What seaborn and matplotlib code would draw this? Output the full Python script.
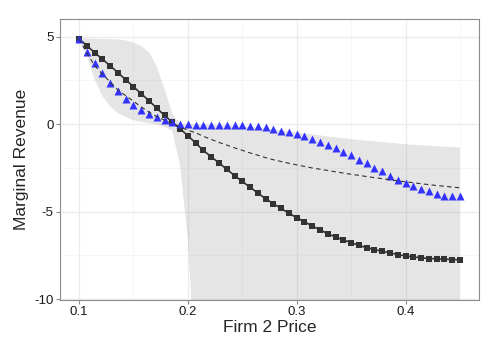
import numpy as np
import pandas as pd
import matplotlib
matplotlib.use("Agg")
import matplotlib.pyplot as plt
import seaborn as sns

# --- values (50 prices from 0.10 to 0.45) ---
price = np.linspace(0.10, 0.45, 50)

mr_black = [4.87, 4.48, 4.08, 3.71, 3.33, 2.94, 2.53, 2.13, 1.73, 1.33,
            0.91, 0.49, 0.11, -0.27, -0.67, -1.08, -1.51, -1.87, -2.22, -2.58,
            -2.94, -3.28, -3.61, -3.94, -4.27, -4.55, -4.82, -5.10, -5.35, -5.59,
            -5.82, -6.05, -6.26, -6.45, -6.62, -6.77, -6.93, -7.06, -7.17, -7.27,
            -7.36, -7.46, -7.53, -7.59, -7.64, -7.68, -7.70, -7.72, -7.74, -7.76]

mr_blue = [4.87, 4.14, 3.48, 2.91, 2.37, 1.90, 1.44, 1.10, 0.82, 0.57,
           0.38, 0.25, 0.11, 0.00, -0.01, -0.03, -0.04, -0.04, -0.04, -0.04,
           -0.05, -0.07, -0.10, -0.14, -0.19, -0.27, -0.37, -0.46, -0.57, -0.68,
           -0.86, -1.01, -1.18, -1.37, -1.58, -1.79, -2.04, -2.22, -2.51, -2.70,
           -2.97, -3.18, -3.37, -3.56, -3.71, -3.85, -3.99, -4.09, -4.13, -4.13]

mr_dashed = [4.87, 4.05, 3.35, 2.85, 2.40, 1.95, 1.62, 1.30, 0.98, 0.68,
             0.42, 0.22, 0.05, -0.17, -0.35, -0.50, -0.70, -0.88, -1.05, -1.20,
             -1.36, -1.50, -1.65, -1.78, -1.92, -2.04, -2.14, -2.24, -2.33, -2.42,
             -2.51, -2.58, -2.65, -2.73, -2.80, -2.87, -2.93, -3.00, -3.06, -3.12,
             -3.18, -3.25, -3.30, -3.35, -3.41, -3.46, -3.51, -3.55, -3.60, -3.64]

band_upper = [4.90, 4.88, 4.87, 4.86, 4.85, 4.83, 4.78, 4.65, 4.45, 4.10,
              3.30, 2.00, 0.60, 0.00, -0.01, -0.03, -0.04, -0.05, -0.06, -0.08,
              -0.10, -0.13, -0.16, -0.20, -0.25, -0.30, -0.35, -0.41, -0.47, -0.53,
              -0.59, -0.65, -0.71, -0.76, -0.81, -0.86, -0.91, -0.95, -0.99, -1.03,
              -1.07, -1.11, -1.15, -1.18, -1.21, -1.24, -1.27, -1.29, -1.31, -1.33]

band_lower = [4.90, 3.90, 2.55, 1.60, 1.02, 0.63, 0.40, 0.22, 0.11, 0.05,
              -0.01, -0.15, -0.40, -2.40, -6.60, -14.4, -24.0, -30.0, -34.0, -37.0,
              -39.0, -40.0, -41.0, -42.0, -42.5, -43.0, -43.5, -44.0, -44.0, -44.0,
              -44.0, -44.0, -44.0, -44.0, -44.0, -44.0, -44.0, -44.0, -44.0, -44.0,
              -44.0, -44.0, -44.0, -44.0, -44.0, -44.0, -44.0, -44.0, -44.0, -44.0]

df = pd.DataFrame({"price": price, "black": mr_black, "blue": mr_blue,
                   "dashed": mr_dashed, "lo": band_lower, "hi": band_upper})

sns.set_style("white")
plt.rcParams["font.family"] = ["Liberation Sans", "DejaVu Sans"]

fig = plt.figure(figsize=(4.99, 3.49), dpi=100)
ax = fig.add_axes([60 / 499, 1 - 300 / 349, 419 / 499, 281 / 349])

# confidence band
ax.fill_between(df["price"], df["lo"], df["hi"], color="#999999", alpha=0.25,
                linewidth=0, zorder=1)

sns.lineplot(data=df, x="price", y="black", ax=ax, color="#333333", lw=1.2,
             marker="s", markersize=5, markeredgewidth=0, zorder=3)
sns.scatterplot(data=df, x="price", y="blue", ax=ax, color="#3333ff",
                marker="^", s=33, linewidth=0, zorder=4)
sns.lineplot(data=df, x="price", y="dashed", ax=ax, color="#333333", lw=0.8,
             linestyle=(0, (4, 3)), zorder=5)

ax.set_xlim(0.0825, 0.4675)
ax.set_ylim(-10.05, 6.0)
ax.set_xticks([0.1, 0.2, 0.3, 0.4])
ax.set_xticklabels(["0.1", "0.2", "0.3", "0.4"])
ax.set_yticks([5, 0, -5, -10])
ax.set_yticklabels(["5", "0", "-5", "-10"])
ax.set_xticks([0.15, 0.25, 0.35, 0.45], minor=True)
ax.set_yticks([2.5, -2.5, -7.5], minor=True)

ax.grid(True, which="major", color="#ebebeb", lw=0.9, zorder=0)
ax.grid(True, which="minor", color="#f5f5f5", lw=0.6, zorder=0)
ax.set_axisbelow(True)
for s in ax.spines.values():
    s.set_color("#8c8c8c")
    s.set_linewidth(0.8)

ax.tick_params(which="major", length=3, width=0.8, color="#8c8c8c",
               labelsize=9.5, labelcolor="#1a1a1a", pad=1.5, bottom=True, left=True)
ax.tick_params(which="minor", length=0)

ax.set_xlabel("Firm 2 Price", fontsize=12.5, labelpad=1)
ax.set_ylabel("Marginal Revenue", fontsize=12.5, labelpad=4)

fig.savefig("out.png", dpi=100)
